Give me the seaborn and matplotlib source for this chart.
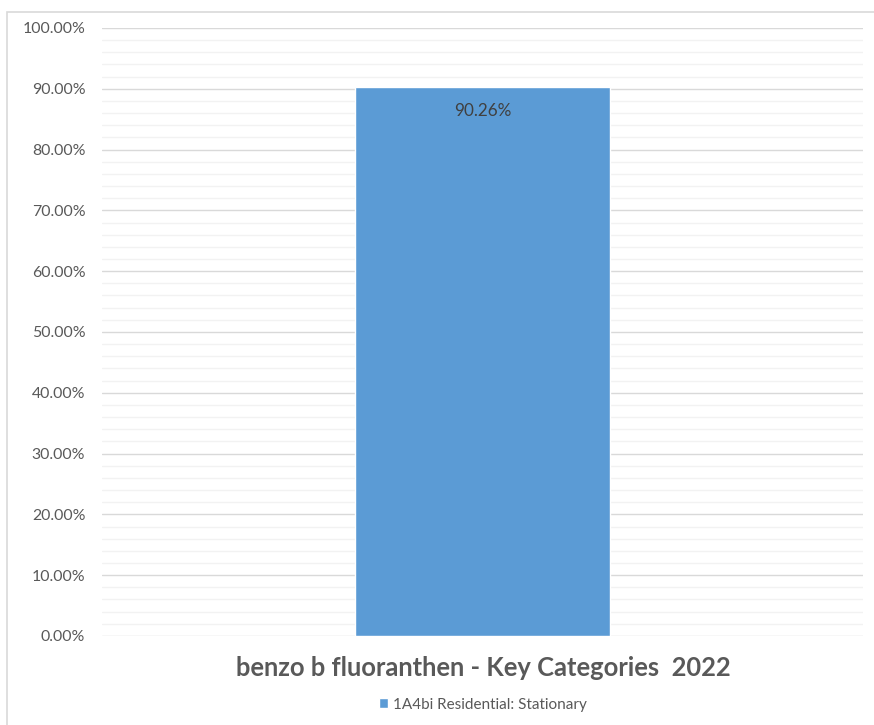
import matplotlib
matplotlib.use("Agg")
import matplotlib.pyplot as plt
from matplotlib.patches import Rectangle
from matplotlib.ticker import MultipleLocator, PercentFormatter
import seaborn as sns
import pandas as pd

sns.set_style("white")
plt.rcParams['font.family'] = ['Lato', 'DejaVu Sans']

# data
categories = ["1A4bi Residential: Stationary"]
shares = [90.26]
title = "benzo b fluoranthen - Key Categories  2022"

bar_color = "#5B9BD5"
text_grey = "#595959"

df = pd.DataFrame({"category": categories, "share": shares})

fig = plt.figure(figsize=(8.74, 7.25), dpi=100)
ax = fig.add_axes([0.1167, 0.1228, 0.8707, 0.8386])

sns.barplot(data=df, x="category", y="share", color=bar_color, width=0.334,
            saturation=1, ax=ax, label=categories[0], legend=False)

ax.set_ylim(0, 100)
ax.set_xlim(-0.5, 0.5)
ax.yaxis.set_major_locator(MultipleLocator(10))
ax.yaxis.set_minor_locator(MultipleLocator(2))
ax.yaxis.set_major_formatter(PercentFormatter(decimals=2))
ax.grid(which="major", axis="y", color="#D9D9D9", linewidth=1.0)
ax.grid(which="minor", axis="y", color="#F2F2F2", linewidth=1.0)
ax.set_axisbelow(True)
ax.tick_params(axis="y", which="both", length=0, pad=12, labelsize=11.4, labelcolor=text_grey)
ax.set_xticks([])
ax.set_xlabel("")
ax.set_ylabel("")
for s in ax.spines.values():
    s.set_visible(False)

ax.bar_label(ax.containers[0], labels=[f"{v:.2f}%" for v in shares],
             padding=-23, color="#404040", fontsize=12.3)

fig.text(0.5525, 0.0786, title, ha="center", va="center", fontsize=18.4,
         fontweight="bold", color=text_grey)

handles, labels = ax.get_legend_handles_labels()
fig.legend(handles, labels, loc="center", bbox_to_anchor=(0.5525, 0.028),
           frameon=False, fontsize=11, labelcolor=text_grey, handlelength=0.6,
           handleheight=0.6, handletextpad=0.3)

# chart area border
fig.patches.append(Rectangle((7 / 874, -0.05), 1.0, 1 - 12 / 725 + 0.05,
                             transform=fig.transFigure, fill=False,
                             edgecolor="#D9D9D9", linewidth=1.2))

fig.savefig("out.png", dpi=100)
